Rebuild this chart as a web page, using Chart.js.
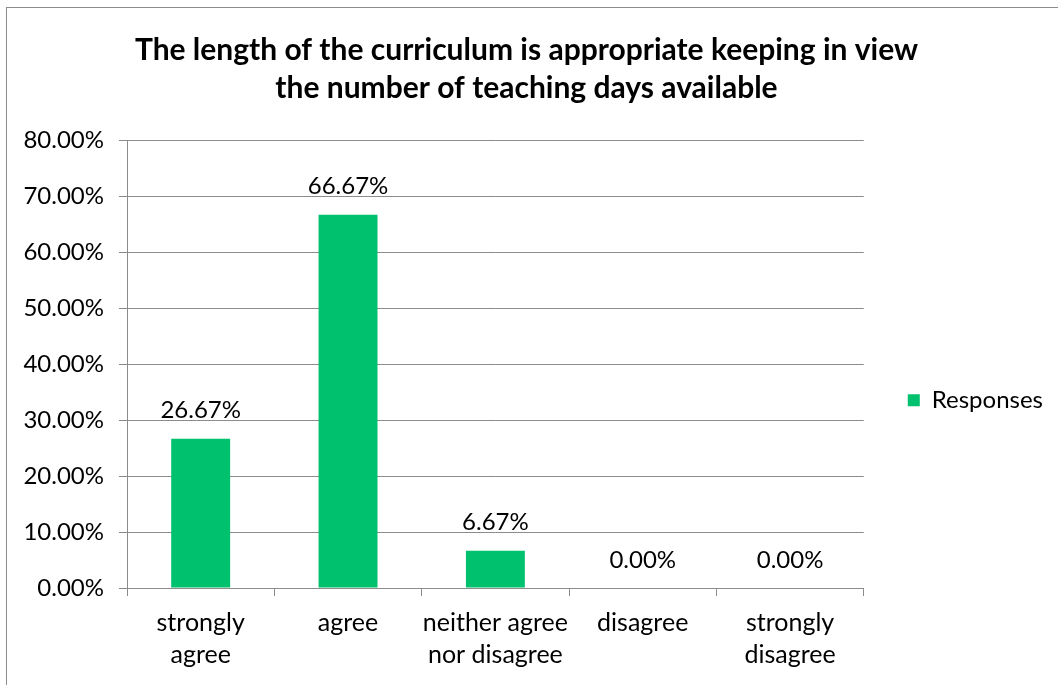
<!DOCTYPE html>
<html>
<head>
<meta charset="utf-8">
<script src="https://cdn.jsdelivr.net/npm/chart.js@4.4.0/dist/chart.umd.min.js"></script>
<style>
  html, body { margin: 0; padding: 0; background: #fff; }
  #frame { position: absolute; left: 6px; top: 7px; width: 1070px; height: 700px;
           border-left: 1px solid #8c8c8c; border-top: 1px solid #8c8c8c; }
  #wrap { position: absolute; left: 0; top: 0; width: 1058px; height: 685px; }
</style>
</head>
<body>
<div id="frame"></div>
<div id="wrap"><canvas id="myChart"></canvas></div>
<script>
const chartTitle = ['The length of the curriculum is appropriate keeping in view', 'the number of teaching days available'];
const categories = [['strongly', 'agree'], 'agree', ['neither agree', 'nor disagree'], 'disagree', ['strongly', 'disagree']];
const seriesName = 'Responses';
const responses = [26.67, 66.67, 6.67, 0.00, 0.00];
const yTicks = [0, 10, 20, 30, 40, 50, 60, 70, 80];

const FONT = 'Lato, "Open Sans", sans-serif';
const GREEN = '#00c16e';
const GRID = '#8c8c8c';

// value labels above the bars
const valueLabels = {
  id: 'valueLabels',
  afterDatasetsDraw(chart) {
    const ctx = chart.ctx;
    ctx.save();
    ctx.font = '24px ' + FONT;
    ctx.fillStyle = '#000';
    ctx.textAlign = 'center';
    ctx.textBaseline = 'middle';
    chart.getDatasetMeta(0).data.forEach((bar, i) => {
      ctx.fillText(responses[i].toFixed(2) + '%', bar.x, bar.y - 28);
    });
    ctx.restore();
  }
};

function renderChart() {
  const ctx = document.querySelector('#myChart').getContext('2d');
  new Chart(ctx, {
    type: 'bar',
    data: {
      labels: categories,
      datasets: [
        {
          label: seriesName,
          data: responses,
          backgroundColor: GREEN,
          borderWidth: 0,
          categoryPercentage: 1,
          barPercentage: 0.4
        }
      ]
    },
    options: {
      responsive: true,
      maintainAspectRatio: false,
      animation: false,
      layout: { padding: { left: 0, right: 5, top: 0, bottom: 3 } },
      plugins: {
        title: {
          display: true,
          text: chartTitle,
          color: '#000',
          font: { family: FONT, size: 30, weight: 'bold', lineHeight: 1.267 },
          padding: { top: 31, bottom: 33 }
        },
        legend: {
          position: 'right',
          // empty legend title just pushes the entry down to where Excel had it
          title: { display: true, text: '', padding: { top: 0, bottom: 104 } },
          labels: {
            color: '#000',
            font: { family: FONT, size: 24 },
            boxWidth: 12,
            boxHeight: 12,
            padding: 44
          }
        },
        tooltip: { enabled: false }
      },
      scales: {
        x: {
          grid: { display: true, drawOnChartArea: false, drawTicks: true, tickLength: 8, color: GRID, offset: true },
          border: { color: GRID },
          ticks: { color: '#000', font: { family: FONT, size: 25, lineHeight: 1.28 }, padding: 11, maxRotation: 0, autoSkip: false }
        },
        y: {
          min: 0,
          max: 80,
          afterBuildTicks: (scale) => { scale.ticks = yTicks.map(v => ({ value: v })); },
          afterFit: (scale) => { scale.width = 127; },
          grid: { color: GRID, tickLength: 8 },
          border: { color: GRID },
          ticks: {
            color: '#000',
            font: { family: FONT, size: 24 },
            padding: 15,
            callback: (v) => v.toFixed(2) + '%'
          }
        }
      }
    },
    plugins: [valueLabels]
  });
}

renderChart();
</script>
</body>
</html>
